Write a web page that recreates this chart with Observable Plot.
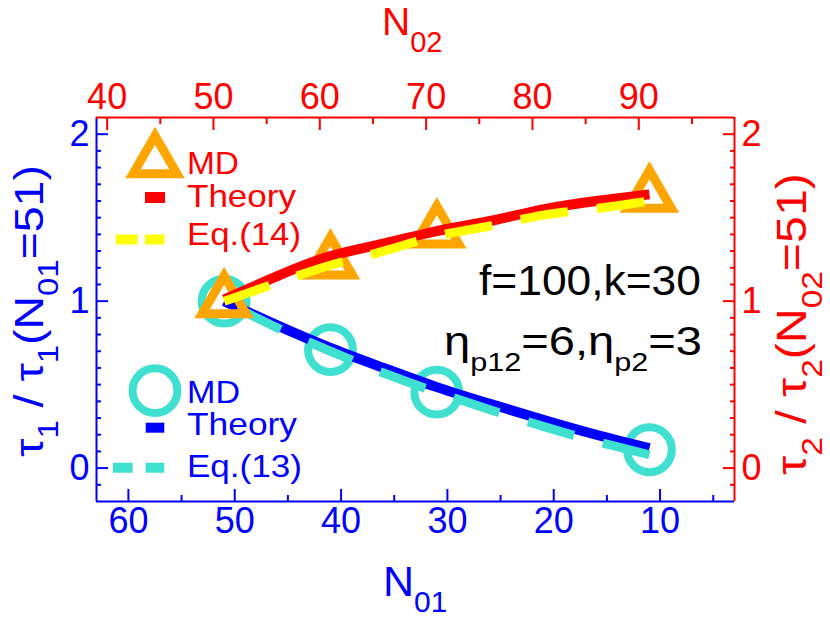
<!DOCTYPE html>
<html><head><meta charset="utf-8">
<script src="https://cdn.jsdelivr.net/npm/d3@7"></script>
<script src="https://cdn.jsdelivr.net/npm/@observablehq/plot@0.6"></script>
<style>
html,body{margin:0;padding:0;background:#fff;}
svg{display:block;}
</style>
</head><body>
<div id="chart"></div>
<script>
// ---------- data ----------
const N01_md = [51, 41, 31, 11];
const tau1_md = [1.0, 0.71, 0.455, 0.11];
const N01_curve = [51, 46, 41, 36, 31, 26, 21, 16, 11];
const tau1_theory = [1.0, 0.855, 0.72, 0.60, 0.485, 0.385, 0.29, 0.20, 0.12];
const tau1_eq13 = [1.0, 0.84, 0.70, 0.57, 0.455, 0.35, 0.25, 0.16, 0.08];

const N02_md = [51, 61, 71, 91];
const tau2_md = [1.0, 1.232, 1.418, 1.632];
const N02_curve = [51, 56, 61, 66, 71, 76, 81, 86, 91];
const tau2_theory = [1.01, 1.15, 1.27, 1.345, 1.42, 1.48, 1.55, 1.60, 1.64];
const tau2_eq14 = [1.0, 1.11, 1.215, 1.30, 1.39, 1.45, 1.515, 1.555, 1.60];

const N01_ticks = [60, 50, 40, 30, 20, 10];
const N01_minor = [55, 45, 35, 25, 15, 5];
const N02_ticks = [40, 50, 60, 70, 80, 90];
const N02_minor = [45, 55, 65, 75, 85, 95];
const tau_ticks = [0, 1, 2];
const tau_minor = [-0.1, 0.1, 0.2, 0.3, 0.4, 0.5, 0.6, 0.7, 0.8, 0.9, 1.1, 1.2, 1.3, 1.4, 1.5, 1.6, 1.7, 1.8, 1.9];
const N_TOTAL = 102;           // N01 + N02 at the same abscissa
const xDomain = [63, 3];       // N01, reversed
const yDomain = [-0.2, 2.1];

// ---------- tables ----------
const circles = N01_md.map((n, i) => ({n, t: tau1_md[i]}));
const theory1 = N01_curve.map((n, i) => ({n, t: tau1_theory[i]}));
const eq13 = N01_curve.map((n, i) => ({n, t: tau1_eq13[i]})).reverse();
const triangles = N02_md.map((n, i) => ({n, t: tau2_md[i]}));
const theory2 = N02_curve.map((n, i) => ({n, t: tau2_theory[i]}));
const eq14 = N02_curve.map((n, i) => ({n, t: tau2_eq14[i]}));

const TURQ = "#40e0d0", ORANGE = "#ffa500", BLUE = "#0000ff", RED = "#ff0000", YELLOW = "#ffff00";
const FONT = "'Liberation Sans', Arial, Helvetica, sans-serif";
const CIRC_R = 22.4, TRI_R = 16.3;
const TICK_FONT = 36;
const toX2 = d => N_TOTAL - d.n;
const intFmt = d => String(Math.round(d));
const lineOpts = {curve: "natural", strokeLinecap: "butt", strokeLinejoin: "round"};
const lab = {fontSize: TICK_FONT, ariaLabel: "tick-label", text: intFmt};

const chart = Plot.plot({
  width: 830, height: 619,
  marginLeft: 96, marginRight: 96, marginTop: 117, marginBottom: 118,
  style: {fontFamily: FONT, background: "#fff", overflow: "visible"},
  x: {domain: xDomain, axis: null},
  y: {domain: yDomain, axis: null},
  marks: [
    Plot.dot(circles, {x: "n", y: "t", r: CIRC_R, stroke: TURQ, strokeWidth: 8, fill: "none"}),
    Plot.line(theory1, {x: "n", y: "t", stroke: BLUE, strokeWidth: 10, ...lineOpts}),
    Plot.line(eq13, {x: "n", y: "t", stroke: TURQ, strokeWidth: 9, strokeDasharray: "48,30", ...lineOpts}),
    Plot.dot(triangles, {x: toX2, y: "t", symbol: "triangle", r: TRI_R, stroke: ORANGE, strokeWidth: 9, fill: "none"}),
    Plot.line(theory2, {x: toX2, y: "t", stroke: RED, strokeWidth: 10, ...lineOpts}),
    Plot.line(eq14, {x: toX2, y: "t", stroke: YELLOW, strokeWidth: 9, strokeDasharray: "48,29", ...lineOpts}),
    // axis lines
    Plot.ruleY([yDomain[0]], {stroke: BLUE, strokeWidth: 2}),
    Plot.ruleX([xDomain[0]], {stroke: BLUE, strokeWidth: 2}),
    Plot.ruleY([yDomain[1]], {stroke: RED, strokeWidth: 2}),
    Plot.ruleX([xDomain[1]], {stroke: RED, strokeWidth: 2}),
    // ticks (inward)
    Plot.axisX(N01_ticks, {anchor: "bottom", tickSize: -12, stroke: BLUE, strokeWidth: 2, fill: "none", label: null}),
    Plot.axisX(N01_minor, {anchor: "bottom", tickSize: -6, stroke: BLUE, strokeWidth: 2, fill: "none", label: null}),
    Plot.axisX(N02_ticks.map(v => N_TOTAL - v), {anchor: "top", tickSize: -12, stroke: RED, strokeWidth: 2, fill: "none", label: null}),
    Plot.axisX(N02_minor.map(v => N_TOTAL - v), {anchor: "top", tickSize: -6, stroke: RED, strokeWidth: 2, fill: "none", label: null}),
    Plot.axisY(tau_ticks, {anchor: "left", tickSize: -12, stroke: BLUE, strokeWidth: 2, fill: "none", label: null}),
    Plot.axisY(tau_minor, {anchor: "left", tickSize: -5, stroke: BLUE, strokeWidth: 2, fill: "none", label: null}),
    Plot.axisY(tau_ticks, {anchor: "right", tickSize: -12, stroke: RED, strokeWidth: 2, fill: "none", label: null}),
    Plot.axisY(tau_minor, {anchor: "right", tickSize: -5, stroke: RED, strokeWidth: 2, fill: "none", label: null}),
    // tick labels
    Plot.text(N01_ticks, {x: d => d, frameAnchor: "bottom", lineAnchor: "top", dy: 6, fill: BLUE, ...lab}),
    Plot.text(N02_ticks, {x: d => N_TOTAL - d, frameAnchor: "top", lineAnchor: "bottom", dy: -9, fill: RED, ...lab}),
    Plot.text(tau_ticks, {y: d => d, frameAnchor: "left", textAnchor: "end", dx: -7, fill: BLUE, ...lab}),
    Plot.text(tau_ticks, {y: d => d, frameAnchor: "right", textAnchor: "start", dx: 7, fill: RED, ...lab})
  ]
});
document.getElementById("chart").append(chart);

const svg = d3.select(chart);

// tick-label glyphs: slight horizontal widening
svg.selectAll('g[aria-label="tick-label"] text').each(function () {
  const t = this.getAttribute("transform");
  if (t) {
    this.setAttribute("transform", t + " scale(1.06,1)");
  } else {
    const x = +(this.getAttribute("x") || 0);
    this.setAttribute("x", 0);
    this.setAttribute("transform", `translate(${x},0) scale(1.06,1)`);
  }
});

// rich text helper (subscripts)
function richText({x, y, rotate = 0, size, subSize, shift, fill, anchor = "start", width, parts}) {
  const g = svg.append("g").attr("transform", `translate(${x},${y})${rotate ? ` rotate(${rotate})` : ""}`);
  const inner = g.append("g");
  const t = inner.append("text").attr("font-size", size).attr("fill", fill)
    .attr("text-anchor", anchor).attr("font-family", FONT);
  let cur = 0;
  for (const p of parts) {
    const sub = Array.isArray(p);
    const str = sub ? p[0] : p;
    const ts = t.append("tspan").text(str);
    const want = sub ? shift : 0;
    if (want !== cur) ts.attr("dy", want - cur);
    cur = want;
    if (sub) ts.attr("font-size", subSize);
  }
  if (width) {
    const w = t.node().getBBox().width;
    if (w > 0) inner.attr("transform", `scale(${width / w},1)`);
  }
}

// axis titles
richText({x: 382, y: 35, size: 39, subSize: 29, shift: 17, fill: RED, parts: ["N", ["02"]]});
richText({x: 383, y: 596, size: 43, subSize: 30, shift: 16, fill: BLUE, parts: ["N", ["01"]]});
richText({x: 43, y: 311, rotate: -90, size: 41, subSize: 29, shift: 15, fill: BLUE, anchor: "middle", width: 292,
  parts: ["τ", ["1"], " / τ", ["1"], "(N", ["01"], "=51)"]});
richText({x: 806, y: 324, rotate: -90, size: 42, subSize: 29, shift: 16, fill: RED, anchor: "middle", width: 302,
  parts: ["τ", ["2"], " / τ", ["2"], "(N", ["02"], "=51)"]});

// annotation
richText({x: 479, y: 295, size: 42, fill: "#000", width: 222, parts: ["f=100,k=30"]});
richText({x: 444, y: 355, size: 40, subSize: 26, shift: 16, fill: "#000", width: 258,
  parts: ["η", ["p12"], "=6,η", ["p2"], "=3"]});

// legends
const leg = svg.append("g");
leg.append("path").attr("d", d3.symbol(d3.symbolTriangle, Math.PI * TRI_R * TRI_R)())
  .attr("transform", "translate(155,161)").attr("fill", "none").attr("stroke", ORANGE).attr("stroke-width", 9);
leg.append("line").attr("x1", 145).attr("x2", 165).attr("y1", 197.5).attr("y2", 197.5)
  .attr("stroke", RED).attr("stroke-width", 11);
leg.append("line").attr("x1", 116).attr("x2", 164.5).attr("y1", 239.5).attr("y2", 239.5)
  .attr("stroke", YELLOW).attr("stroke-width", 10).attr("stroke-dasharray", "21.5,7.5");
leg.append("circle").attr("cx", 155).attr("cy", 390.7).attr("r", CIRC_R)
  .attr("fill", "none").attr("stroke", TURQ).attr("stroke-width", 8);
leg.append("line").attr("x1", 145.7).attr("x2", 164.3).attr("y1", 427.7).attr("y2", 427.7)
  .attr("stroke", BLUE).attr("stroke-width", 10);
leg.append("line").attr("x1", 113).attr("x2", 164.3).attr("y1", 467.7).attr("y2", 467.7)
  .attr("stroke", TURQ).attr("stroke-width", 10).attr("stroke-dasharray", "19.7,12.9");

richText({x: 187, y: 173.5, size: 32, fill: RED, width: 52, parts: ["MD"]});
richText({x: 187, y: 207, size: 32, fill: RED, width: 109, parts: ["Theory"]});
richText({x: 187, y: 245, size: 32, fill: RED, width: 114, parts: ["Eq.(14)"]});
richText({x: 187, y: 403.3, size: 32, fill: BLUE, width: 53, parts: ["MD"]});
richText({x: 187, y: 435, size: 32, fill: BLUE, width: 110, parts: ["Theory"]});
richText({x: 187, y: 476.7, size: 32, fill: BLUE, width: 115, parts: ["Eq.(13)"]});
</script>
</body></html>
